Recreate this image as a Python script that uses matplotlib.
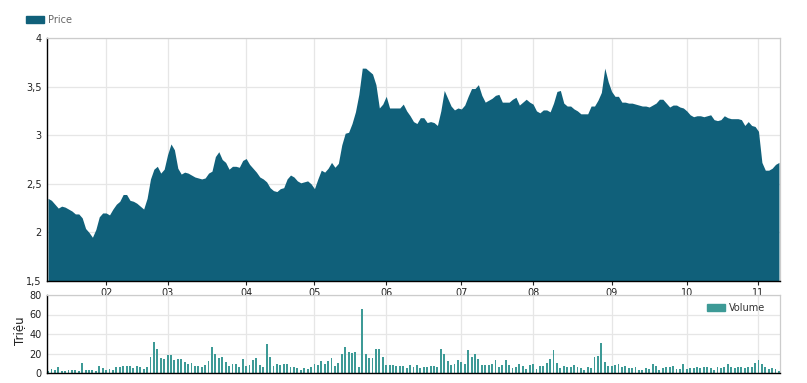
import matplotlib
matplotlib.use("Agg")
import matplotlib.pyplot as plt
from matplotlib.patches import Patch
import numpy as np

# daily closing price (trading-day order)
price = [2.35, 2.33, 2.29, 2.25, 2.27, 2.26, 2.24, 2.22, 2.19, 2.19,
         2.15, 2.04, 2.00, 1.95, 2.03, 2.16, 2.20, 2.20, 2.18, 2.24,
         2.29, 2.32, 2.39, 2.39, 2.33, 2.32, 2.30, 2.27, 2.24, 2.35,
         2.55, 2.65, 2.68, 2.61, 2.65, 2.80, 2.91, 2.85, 2.66, 2.60,
         2.62, 2.61, 2.59, 2.57, 2.56, 2.55, 2.56, 2.61, 2.63, 2.78, 2.83,
         2.75, 2.72, 2.65, 2.68, 2.68, 2.67, 2.74, 2.76, 2.70, 2.66,
         2.62, 2.57, 2.55, 2.52, 2.46, 2.43, 2.42, 2.45, 2.46, 2.55,
         2.59, 2.57, 2.53, 2.51, 2.52, 2.53, 2.50, 2.45, 2.55, 2.64,
         2.62, 2.66, 2.72, 2.67, 2.71, 2.90, 3.02, 3.03, 3.12, 3.24,
         3.42, 3.69, 3.69, 3.66, 3.63, 3.52, 3.28, 3.32, 3.40, 3.28,
         3.28, 3.28, 3.28, 3.32, 3.25, 3.20, 3.14, 3.12, 3.18, 3.18, 3.13,
         3.14, 3.13, 3.10, 3.25, 3.46, 3.38, 3.30, 3.26, 3.28, 3.27,
         3.31, 3.40, 3.48, 3.48, 3.52, 3.41, 3.34, 3.36, 3.38, 3.41,
         3.42, 3.34, 3.34, 3.34, 3.37, 3.39, 3.31, 3.34, 3.37, 3.34, 3.32,
         3.25, 3.23, 3.26, 3.26, 3.24, 3.33, 3.45, 3.46, 3.33, 3.30,
         3.30, 3.27, 3.25, 3.22, 3.22, 3.22, 3.30, 3.30, 3.36, 3.44,
         3.69, 3.55, 3.45, 3.40, 3.40, 3.34, 3.34, 3.33, 3.33, 3.32, 3.31,
         3.30, 3.30, 3.29, 3.31, 3.33, 3.37, 3.37, 3.33, 3.29, 3.31,
         3.31, 3.29, 3.28, 3.25, 3.21, 3.19, 3.20, 3.20, 3.19, 3.20,
         3.21, 3.16, 3.15, 3.16, 3.20, 3.18, 3.17, 3.17, 3.17, 3.16, 3.10,
         3.14, 3.10, 3.09, 3.04, 2.72, 2.64, 2.64, 2.66, 2.70, 2.72]

# daily volume, millions of shares
volume = [2.5, 4, 3, 6, 2, 2, 3, 3, 3, 2, 10, 3, 3, 3, 2, 7, 5, 3, 4, 3,
          6, 6, 7, 7, 7, 5, 7, 6, 4, 6, 16, 32, 25, 15, 14, 18, 18, 13, 14, 14,
          11, 9, 10, 7, 7, 6, 8, 12, 27, 19, 15, 16, 11, 7, 9, 9, 6, 14, 7, 8,
          13, 15, 8, 6, 30, 16, 7, 9, 8, 9, 9, 6,
          6, 5, 3, 5, 4, 6, 9, 8, 12, 9, 12, 15, 7, 10, 20, 27, 22, 21, 22, 6,
          66, 20, 15, 15, 25, 25, 16, 8, 8, 8, 7, 7, 7, 5, 8, 6, 8, 5, 6, 6,
          7, 7, 6, 25, 20, 12, 8, 9, 13, 11, 9, 24, 16, 20, 14, 8, 8, 8, 9, 13,
          6, 8, 13, 8, 5, 6, 9, 7, 4, 8, 9,
          4, 7, 7, 10, 14, 24, 10, 5, 7, 6, 6, 8, 6, 5, 3, 6, 5, 16, 17, 31,
          11, 7, 7, 8, 9, 6, 7, 5, 5, 6, 3, 3, 5, 4, 9, 7, 3, 5, 6, 6,
          7, 4, 4, 9, 4, 5, 5, 6, 5, 6, 6, 5, 3, 6, 5, 6, 9, 6, 5, 6,
          6, 5, 6, 6, 10, 13, 9, 6, 4, 5, 4, 2]

# first trading day of each month (index into the series)
month_idx = [17, 35, 58, 78, 99, 121, 142, 165, 187, 208]
month_lbl = ["02", "03", "04", "05", "06", "07", "08", "09", "10", "11"]
price_ticks = [1.5, 2, 2.5, 3, 3.5, 4]
price_lbls = ["1,5", "2", "2,5", "3", "3,5", "4"]
vol_ticks = [0, 20, 40, 60, 80]

price_color = "#10607a"
vol_color = "#3d9a96"
grid_c = "#e6e6e6"

x = np.arange(len(price))
xv = np.arange(len(volume))

fig = plt.figure(figsize=(8.07, 3.83), dpi=100)
W, H = 807, 383
ax = fig.add_axes([47 / W, 1 - 281 / H, 733 / W, 243 / H])
axv = fig.add_axes([47 / W, 1 - 373 / H, 733 / W, 78 / H])

ax.fill_between(x, price, 1.5, color=price_color, linewidth=0, zorder=2)
ax.set_xlim(-0.3, len(price) - 0.7)
ax.set_ylim(1.5, 4)
ax.set_xticks(month_idx)
ax.set_xticklabels(month_lbl)
ax.set_yticks(price_ticks)
ax.set_yticklabels(price_lbls)

axv.bar(xv, volume, width=0.55, color=vol_color, zorder=2)
axv.set_xlim(-0.3, len(volume) - 0.7)
axv.set_ylim(0, 80)
axv.set_yticks(vol_ticks)
axv.set_xticks(month_idx)
axv.set_xticklabels([])

for a in (ax, axv):
    a.grid(True, color=grid_c, linewidth=0.9, zorder=0)
    a.set_axisbelow(True)
    for s in ("top", "right"):
        a.spines[s].set_color("#cccccc")
        a.spines[s].set_linewidth(0.9)
    for s in ("left", "bottom"):
        a.spines[s].set_color("black")
        a.spines[s].set_linewidth(1.0)
    a.tick_params(axis="y", length=0, pad=4, labelsize=7, colors="#222222")
ax.tick_params(axis="x", length=3, pad=2, labelsize=7, colors="#222222")
axv.tick_params(axis="x", length=0)

ax.legend(handles=[Patch(color=price_color, label="Price")],
          loc="center left", bbox_to_anchor=(26 / W, 1 - 20 / H),
          bbox_transform=fig.transFigure, frameon=False, borderpad=0,
          borderaxespad=0, handlelength=1.9, handleheight=0.75,
          handletextpad=0.4, fontsize=7, labelcolor="#666666")
axv.legend(handles=[Patch(color=vol_color, label="Volume")],
           loc="center left", bbox_to_anchor=(707 / W, 1 - 308 / H),
           bbox_transform=fig.transFigure, frameon=False, borderpad=0,
           borderaxespad=0, handlelength=1.9, handleheight=0.75,
           handletextpad=0.4, fontsize=7, labelcolor="#333333")

fig.text(20 / W, 1 - 331 / H, "Triệu", rotation=90, ha="center",
         va="center", fontsize=8.5, color="#222222")

fig.savefig("out.png", dpi=100)
